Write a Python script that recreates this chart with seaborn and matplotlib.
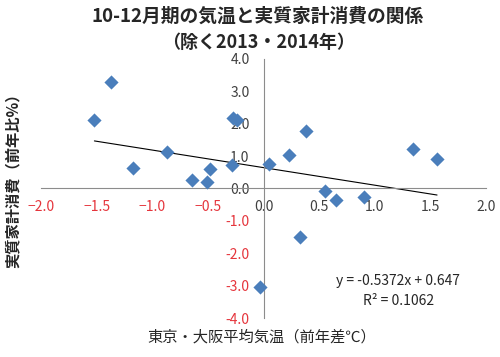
import numpy as np
import pandas as pd
import matplotlib
matplotlib.use('Agg')
import matplotlib.pyplot as plt
import seaborn as sns

# data
temp_diff = [-1.52, -1.37, -1.17, -0.87, -0.64, -0.51, -0.48, -0.28, -0.27, -0.24,
             0.05, 0.23, 0.38, 0.55, 0.65, 0.90, 1.34, 1.56, 0.33, -0.03]
consumption = [2.12, 3.29, 0.62, 1.13, 0.25, 0.19, 0.61, 0.72, 2.17, 2.11,
               0.77, 1.03, 1.76, -0.09, -0.37, -0.26, 1.22, 0.91, -1.50, -3.04]
x_ticks = [-2.0, -1.5, -1.0, -0.5, 0.0, 0.5, 1.0, 1.5, 2.0]
y_ticks = [-4.0, -3.0, -2.0, -1.0, 0.0, 1.0, 2.0, 3.0, 4.0]

df = pd.DataFrame({'temp': temp_diff, 'cons': consumption})

sns.set_style('white')
plt.rcParams['font.family'] = ['Noto Sans CJK JP', 'DejaVu Sans']

blue = '#4A7EBB'
red = '#E5353C'
axis_gray = '#8C8C8C'
label_gray = '#404040'

fig = plt.figure(figsize=(5, 3.57), dpi=100)
ax = fig.add_axes([0.082, 0.109, 0.89, 0.726])

sns.scatterplot(data=df, x='temp', y='cons', marker='D', s=52, color=blue,
                linewidth=0, ax=ax, zorder=3)
sns.regplot(data=df, x='temp', y='cons', scatter=False, ci=None, truncate=True,
            line_kws=dict(color='black', lw=0.8), ax=ax)

ax.set_xlim(-2, 2)
ax.set_ylim(-4, 4)
ax.set_xlabel('')
ax.set_ylabel('')

for s in ['top', 'right']:
    ax.spines[s].set_visible(False)
ax.spines['left'].set_position(('data', 0))
ax.spines['bottom'].set_position(('data', 0))
for s in ['left', 'bottom']:
    ax.spines[s].set_color(axis_gray)
    ax.spines[s].set_linewidth(0.8)

ax.set_xticks(x_ticks)
ax.set_xticklabels([('\u2212%.1f' % -v) if v < 0 else '%.1f' % v for v in x_ticks])
ax.set_yticks(y_ticks)
ax.set_yticklabels(['%.1f' % v for v in y_ticks])
ax.tick_params(axis='x', direction='in', length=4, width=0.8, color=axis_gray,
               pad=8, labelsize=10)
ax.tick_params(axis='y', direction='out', length=3, width=0.8, color=axis_gray,
               pad=7, labelsize=10)

for v, lab in zip(x_ticks, ax.get_xticklabels()):
    lab.set_color(red if v < 0 else label_gray)
for v, lab in zip(y_ticks, ax.get_yticklabels()):
    lab.set_color(red if v < 0 else label_gray)

ax.text(1.21, -2.86, 'y = -0.5372x + 0.647', ha='center', va='center', fontsize=10)
ax.text(1.21, -3.48, 'R² = 0.1062', ha='center', va='center', fontsize=10)

fig.text(0.515, 0.955, '10-12月期の気温と実質家計消費の関係', ha='center', va='center',
         fontsize=13.5, fontweight='bold')
fig.text(0.516, 0.88, '（除く2013・2014年）', ha='center', va='center',
         fontsize=13, fontweight='bold')
fig.text(0.524, 0.056, '東京・大阪平均気温（前年差℃）', ha='center', va='center',
         fontsize=11)
fig.text(0.026, 0.505, '実質家計消費（前年比%）', ha='center', va='center',
         rotation=90, fontsize=11, fontweight='bold')

fig.savefig('out.png', dpi=100)
